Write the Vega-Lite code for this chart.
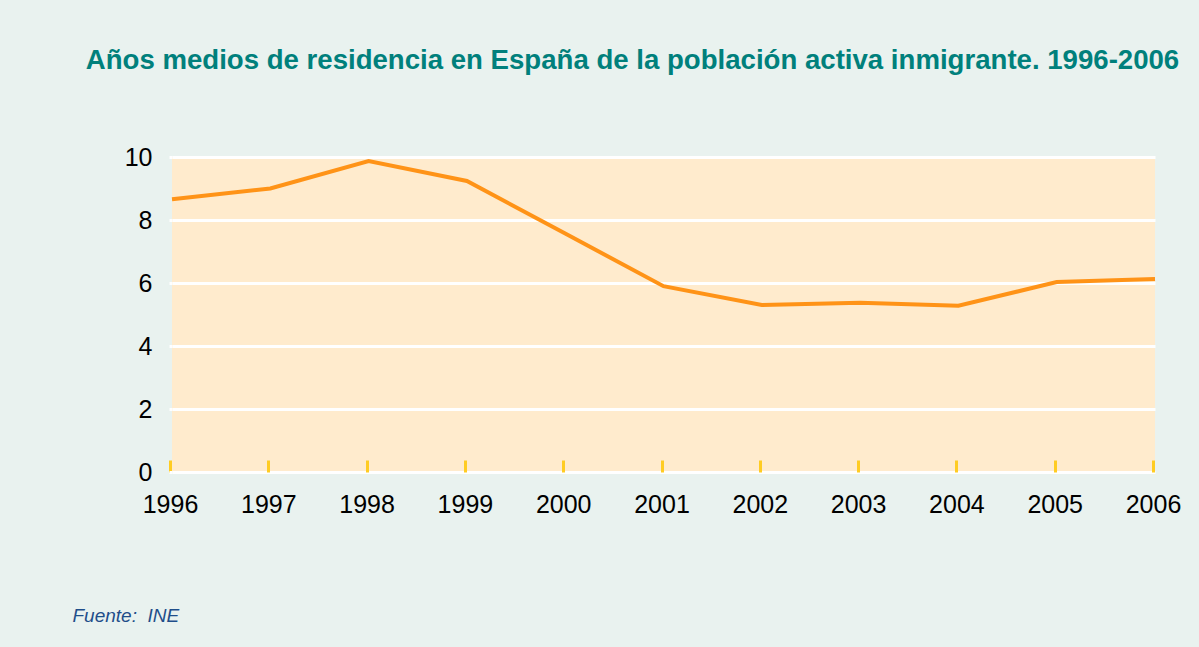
{
  "$schema": "https://vega.github.io/schema/vega-lite/v6.json",
  "width": 983,
  "height": 315,
  "autosize": {"type": "none"},
  "padding": {"left": 172, "top": 157, "right": 44, "bottom": 175},
  "background": "#E9F2EF",
  "title": {
    "text": "Años medios de residencia en España de la población activa inmigrante. 1996-2006",
    "font": "Liberation Sans",
    "fontSize": 27.6,
    "fontWeight": "bold",
    "color": "#00807C",
    "anchor": "middle",
    "frame": "group",
    "baseline": "alphabetic",
    "offset": 48,
    "dx": -31
  },
  "config": {
    "view": {"fill": "#FFEBCD", "stroke": null},
    "font": "Liberation Sans"
  },
  "data": {
    "values": [
      {"year": "1996", "value": 8.66},
      {"year": "1997", "value": 9.0},
      {"year": "1998", "value": 9.87},
      {"year": "1999", "value": 9.24},
      {"year": "2000", "value": 7.57},
      {"year": "2001", "value": 5.9},
      {"year": "2002", "value": 5.3},
      {"year": "2003", "value": 5.37},
      {"year": "2004", "value": 5.28},
      {"year": "2005", "value": 6.03},
      {"year": "2006", "value": 6.13}
    ]
  },
  "mark": {"type": "line", "color": "#FF9317", "strokeWidth": 4, "strokeJoin": "miter"},
  "encoding": {
    "x": {
      "field": "year",
      "type": "ordinal",
      "scale": {"type": "point", "padding": 0},
      "axis": {
        "title": "Fuente:\u00a0\u00a0INE",
        "titleFont": "Liberation Sans",
        "titleFontSize": 19,
        "titleFontStyle": "italic",
        "titleFontWeight": "normal",
        "titleColor": "#1F4E8A",
        "titleAlign": "left",
        "titleAnchor": "start",
        "titleBaseline": "alphabetic",
        "titleX": -100,
        "titleY": 149,
        "labelAngle": 0,
        "labelFontSize": 25,
        "labelColor": "#000000",
        "labelPadding": 32,
        "labelBaseline": "top",
        "labelFlush": false,
        "domain": false,
        "grid": false,
        "ticks": true,
        "tickColor": "#FFCC22",
        "tickWidth": 3,
        "tickSize": -12,
        "tickOffset": -2
      }
    },
    "y": {
      "field": "value",
      "type": "quantitative",
      "scale": {"domain": [0, 10], "nice": false},
      "axis": {
        "title": null,
        "values": [0, 2, 4, 6, 8, 10],
        "labelFontSize": 25,
        "labelColor": "#000000",
        "labelPadding": 17,
        "domain": false,
        "ticks": true,
        "tickColor": "#FFFFFF",
        "tickWidth": 3,
        "tickSize": 3,
        "grid": true,
        "gridColor": "#FFFFFF",
        "gridWidth": 3,
        "gridOpacity": 1
      }
    }
  }
}
